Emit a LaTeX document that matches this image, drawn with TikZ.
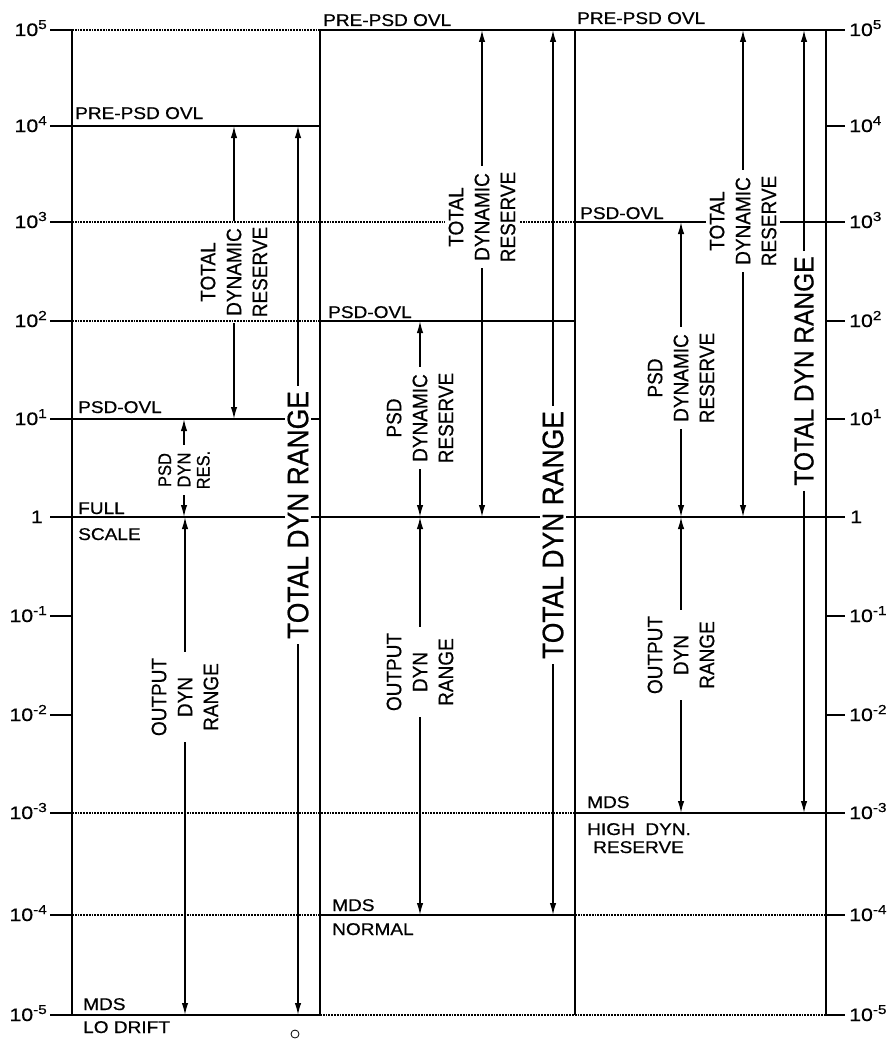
\documentclass[tikz,border=0pt]{standalone}
\usepackage{fontspec}
\setmainfont{Liberation Sans}[FakeBold=0.6]
\usetikzlibrary{arrows.meta}
\newcommand\tpow[1]{10\raisebox{7pt}{\fontsize{13}{13}\selectfont #1}}
\begin{document}
\begin{tikzpicture}[x=1pt,y=-1pt,
  ln/.style={line width=1.6pt},
  dl/.style={line width=1.4pt, dash pattern=on 1.8pt off 1pt},
  arr/.style={line width=1.5pt,-{Latex[length=12pt,width=6.5pt]}},
  lbl/.style={font=\fontsize{17}{18}\selectfont, xscale=1.12, inner sep=0pt, anchor=base west},
  ax/.style={font=\fontsize{18}{18}\selectfont, xscale=1.18, inner sep=0pt},
  rotthree/.style={rotate=90, yscale=1.1, align=center, inner xsep=6pt, inner ysep=3pt, font=\fontsize{19}{23.6}\selectfont},
  whitebg/.style={fill=white},
  bigtxt/.style={rotate=90, yscale=1.12, fill=white, inner xsep=5pt, inner ysep=2pt, font=\fontsize{26.5}{28}\selectfont},
]
\useasboundingbox (0,0) rectangle (893,1041);
% level coordinates
\coordinate (L5) at (0,30);
\coordinate (L4) at (0,126);
\coordinate (L3) at (0,222);
\coordinate (L2) at (0,321);
\coordinate (L1) at (0,419);
\coordinate (L0) at (0,517);
\coordinate (Lm1) at (0,616);
\coordinate (Lm2) at (0,715);
\coordinate (Lm3) at (0,813);
\coordinate (Lm4) at (0,915);
\coordinate (Lm5) at (0,1015);

% vertical lines
\draw[ln] (72,30) -- (72,1015);
\draw[ln] (320,30) -- (320,1015);
\draw[ln] (575,30) -- (575,1015);
\draw[ln] (826,30) -- (826,1015) -- (845,1015);

% 10^5
\draw[ln] (50,30) -- (72,30);
\draw[dl] (72,30) -- (320,30);
\draw[ln] (320,30) -- (845,30);
% 10^4
\draw[ln] (50,126) -- (320,126);
\draw[ln] (826,126) -- (845,126);
% 10^3
\draw[ln] (50,222) -- (72,222);
\draw[dl] (72,222) -- (575,222);
\draw[ln] (575,222) -- (845,222);
% 10^2
\draw[ln] (50,321) -- (72,321);
\draw[dl] (72,321) -- (320,321);
\draw[ln] (320,321) -- (575,321);
\draw[ln] (826,321) -- (845,321);
% 10^1
\draw[ln] (50,419) -- (320,419);
\draw[ln] (826,419) -- (845,419);
% 1
\draw[ln] (50,517) -- (845,517);
% 10^-1, 10^-2
\draw[ln] (50,616) -- (72,616);
\draw[ln] (826,616) -- (845,616);
\draw[ln] (50,715) -- (72,715);
\draw[ln] (826,715) -- (845,715);
% 10^-3
\draw[ln] (50,813) -- (72,813);
\draw[dl] (72,813) -- (575,813);
\draw[ln] (575,813) -- (845,813);
% 10^-4
\draw[ln] (50,915) -- (72,915);
\draw[dl] (72,915) -- (320,915);
\draw[ln] (320,915) -- (575,915);
\draw[dl] (575,915) -- (826,915);
\draw[ln] (826,915) -- (845,915);
% 10^-5
\draw[ln] (50,1015) -- (320,1015);
\draw[dl] (320,1015) -- (826,1015);

% axis labels
\foreach \yy/\ee [count=\i] in {30/5,126/4,222/3,321/2,419/1,616/-1,715/-2,813/-3,915/-4,1015/-5}{
  \node[ax, anchor=base east] (la\i) at (47,\yy+6) {\tpow{\ee}};
  \node[ax, anchor=base west] (ra\i) at (849,\yy+6) {\tpow{\ee}};
}
\node[ax, anchor=base east] (laone) at (43,523) {1};
\node[ax, anchor=base west] (raone) at (850,523) {1};

% level labels
\node[lbl] (lpre) at (75,119) {PRE-PSD OVL};
\node[lbl] (mpre) at (323,26) {PRE-PSD OVL};
\node[lbl] (rpre) at (577,24) {PRE-PSD OVL};
\node[lbl] (lovl) at (78,413) {PSD-OVL};
\node[lbl] (lfull) at (78,514) {FULL};
\node[lbl] (lscale) at (78,540) {SCALE};
\node[lbl] (movl) at (328,318) {PSD-OVL};
\node[lbl] (mmds) at (332,911) {MDS};
\node[lbl] (mnorm) at (332,935) {NORMAL};
\node[lbl] (rovl) at (580,219) {PSD-OVL};
\node[lbl] (rmds) at (587,808) {MDS};
\node[lbl] (rhigh) at (587,835) {HIGH\ \ DYN.};
\node[lbl] (rres) at (593,853) {RESERVE};
\node[lbl] (lmds) at (83,1010) {MDS};
\node[lbl] (ldrift) at (83,1033) {LO DRIFT};

% rotated range labels
\node[rotthree] (ltdr) at (234,272) {TOTAL\\DYNAMIC\\RESERVE};
\node[bigtxt] (ltdyn) at (298,515) {TOTAL DYN RANGE};
\node[rotthree, font=\fontsize{16.5}{17.5}\selectfont] (lpsd) at (184,470) {PSD\\DYN\\RES.};
\node[rotthree] (lout) at (185,697) {OUTPUT\\DYN\\RANGE};

\node[rotthree, whitebg] (mtdr) at (482,217) {TOTAL\\DYNAMIC\\RESERVE};
\node[bigtxt] (mtdyn) at (553,535) {TOTAL DYN RANGE};
\node[rotthree] (mpsd) at (420,418) {PSD\\DYNAMIC\\RESERVE};
\node[rotthree] (mout) at (420,672) {OUTPUT\\DYN\\RANGE};

\node[rotthree, whitebg] (rtdr) at (743,221) {TOTAL\\DYNAMIC\\RESERVE};
\node[bigtxt, font=\fontsize{24.5}{26}\selectfont] (rtdyn) at (804,371) {TOTAL DYN RANGE};
\node[rotthree] (rpsd) at (681,378) {PSD\\DYNAMIC\\RESERVE};
\node[rotthree] (rout) at (681,655) {OUTPUT\\DYN\\RANGE};

% arrows
\draw[arr] (ltdr.east) -- (ltdr.east |- L4);
\draw[arr] (ltdr.west) -- (ltdr.west |- L1);
\draw[arr] (ltdyn.east) -- (ltdyn.east |- L4);
\draw[arr] (ltdyn.west) -- (ltdyn.west |- Lm5);
\draw[arr] (lpsd.east) -- (lpsd.east |- L1);
\draw[arr] (lpsd.west) -- (lpsd.west |- L0);
\draw[arr] (lout.east) -- (lout.east |- L0);
\draw[arr] (lout.west) -- (lout.west |- Lm5);

\draw[arr] (mtdr.east) -- (mtdr.east |- L5);
\draw[arr] (mtdr.west) -- (mtdr.west |- L0);
\draw[arr] (mtdyn.east) -- (mtdyn.east |- L5);
\draw[arr] (mtdyn.west) -- (mtdyn.west |- Lm4);
\draw[arr] (mpsd.east) -- (mpsd.east |- L2);
\draw[arr] (mpsd.west) -- (mpsd.west |- L0);
\draw[arr] (mout.east) -- (mout.east |- L0);
\draw[arr] (mout.west) -- (mout.west |- Lm4);

\draw[arr] (rtdr.east) -- (rtdr.east |- L5);
\draw[arr] (rtdr.west) -- (rtdr.west |- L0);
\draw[arr] (rtdyn.east) -- (rtdyn.east |- L5);
\draw[arr] (rtdyn.west) -- (rtdyn.west |- Lm3);
\draw[arr] (rpsd.east) -- (rpsd.east |- L3);
\draw[arr] (rpsd.west) -- (rpsd.west |- L0);
\draw[arr] (rout.east) -- (rout.east |- L0);
\draw[arr] (rout.west) -- (rout.west |- Lm3);

% small mark
\draw[line width=0.8pt] (295,1034) circle (4pt);
\end{tikzpicture}
\end{document}
